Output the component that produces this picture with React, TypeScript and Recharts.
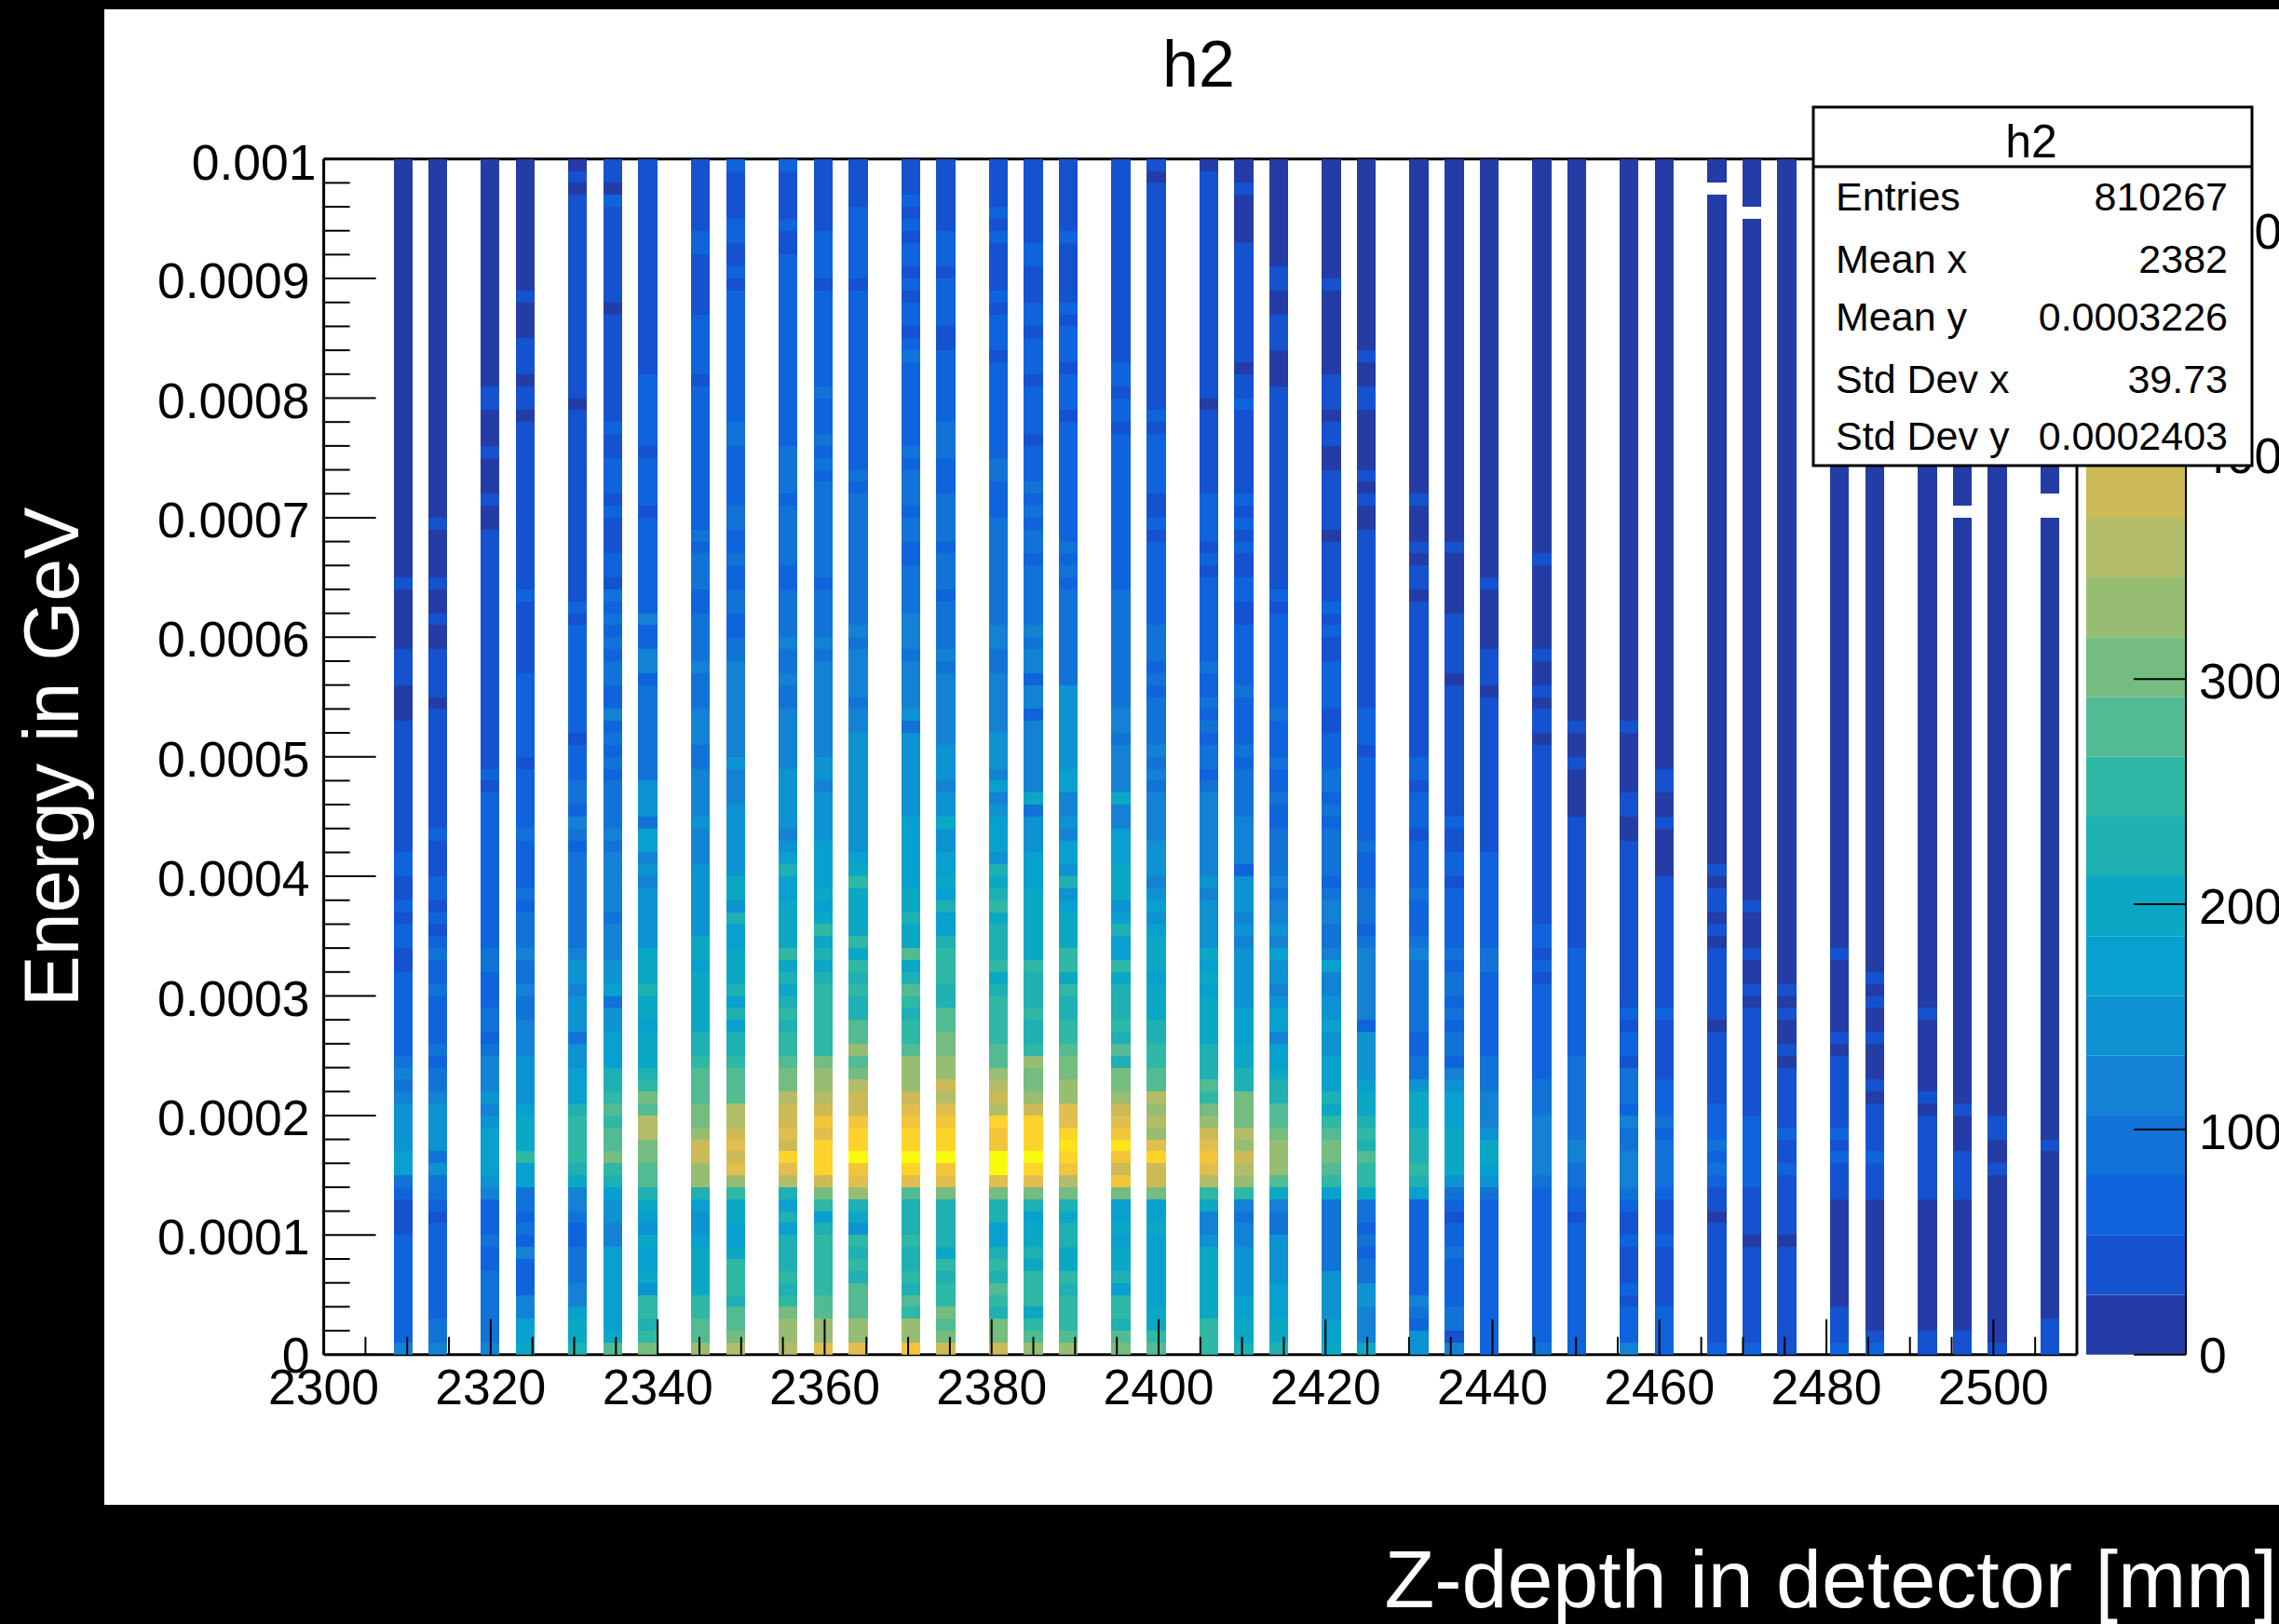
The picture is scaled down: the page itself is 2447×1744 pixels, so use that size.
import React from "react";
import {
  BarChart,
  Bar,
  ScatterChart,
  Scatter,
  XAxis,
  YAxis,
  ReferenceLine,
} from "recharts";

const WIDTH = 2447;
const HEIGHT = 1744;
const FONT = '"Liberation Sans", Arial, sans-serif';

const PLOT_LEFT = 347.6;
const PLOT_RIGHT = 2230;
const PLOT_TOP = 170.7;
const PLOT_BOTTOM = 1454.7;
const TICK_FONT = 53.5;

// contour colours, low to high, one per step of the colour scale
const palette = [
  "#243ca5", "#1552cf", "#0f64dd", "#1173d8", "#1382d4",
  "#0d92d2", "#08a0cf", "#0ba8c5", "#1eb0b3", "#2eb8a5",
  "#52bb93", "#74bc80", "#97bd73", "#b3bd68", "#ccba56",
  "#e1be4e", "#f3c53a", "#fed32b", "#f9e519", "#f9fb0e",
];
const contourStep = 26.55;
const zMax = 531;
const zTicks = [0, 100, 200, 300, 400, 500];

const xMajorTicks = [2300, 2320, 2340, 2360, 2380, 2400, 2420, 2440, 2460, 2480, 2500];
const xTicks = [
  2300, 2305, 2310, 2315, 2320, 2325, 2330, 2335, 2340, 2345, 2350, 2355, 2360, 2365,
  2370, 2375, 2380, 2385, 2390, 2395, 2400, 2405, 2410, 2415, 2420, 2425, 2430, 2435,
  2440, 2445, 2450, 2455, 2460, 2465, 2470, 2475, 2480, 2485, 2490, 2495, 2500, 2505,
];
const yMajorTicks = [0, 0.0001, 0.0002, 0.0003, 0.0004, 0.0005, 0.0006, 0.0007, 0.0008, 0.0009, 0.001];
const yTicks = [
  0, 0.00002, 0.00004, 0.00006, 0.00008, 0.0001, 0.00012, 0.00014, 0.00016, 0.00018,
  0.0002, 0.00022, 0.00024, 0.00026, 0.00028, 0.0003, 0.00032, 0.00034, 0.00036, 0.00038,
  0.0004, 0.00042, 0.00044, 0.00046, 0.00048, 0.0005, 0.00052, 0.00054, 0.00056, 0.00058,
  0.0006, 0.00062, 0.00064, 0.00066, 0.00068, 0.0007, 0.00072, 0.00074, 0.00076, 0.00078,
  0.0008, 0.00082, 0.00084, 0.00086, 0.00088, 0.0009, 0.00092, 0.00094, 0.00096, 0.00098, 0.001,
];

const statsRows = [
  ["Entries", "810267"],
  ["Mean x", "2382"],
  ["Mean y", "0.0003226"],
  ["Std Dev x", "39.73"],
  ["Std Dev y", "0.0002403"],
];
const statsBaselines = [226, 293, 355, 421.7, 482.7];

// detector layers, centre of each filled column in mm
const layerZ = [
  2309.51, 2313.63, 2319.91, 2324.14, 2330.42, 2334.65, 2338.83, 2345.11, 2349.34, 2355.62,
  2359.85, 2364.03, 2370.35, 2374.5, 2380.83, 2385.02, 2389.19, 2395.47, 2399.71, 2406.03,
  2410.21, 2414.4, 2420.72, 2424.89, 2431.18, 2435.41, 2439.59, 2445.92, 2450.1, 2456.34,
  2460.61, 2466.87, 2471.07, 2475.27, 2481.54, 2485.79, 2492.11, 2496.26, 2500.45, 2506.77,
];
const layerWidthMm = 2.28;
const energyBinGeV = 0.00001;

// for each layer, bottom to top, [contour level, number of energy bins]
// level -1 is an empty bin
const layerRuns = [
  [[4,1],[2,9],[1,3],[2,1],[3,1],[6,2],[5,4],[4,1],[3,1],[4,1],[3,1],[2,7],[1,2],[2,2],[1,1],[2,1],[1,2],[2,2],[1,11],[0,3],[1,3],[0,5],[1,1],[0,35]],
  [[4,1],[3,2],[2,8],[1,1],[2,1],[3,2],[5,1],[3,1],[5,4],[4,1],[3,2],[2,1],[3,1],[2,4],[3,1],[2,2],[3,1],[2,1],[1,1],[2,1],[1,1],[2,2],[1,3],[2,1],[1,10],[0,1],[1,4],[0,2],[1,1],[0,2],[1,1],[0,4],[1,1],[0,30]],
  [[4,1],[3,6],[2,2],[3,1],[2,3],[4,1],[5,1],[6,4],[5,1],[4,1],[5,1],[4,3],[3,1],[2,1],[3,2],[2,3],[3,2],[2,13],[1,1],[2,1],[1,20],[0,2],[1,1],[0,3],[1,1],[0,3],[1,2],[0,19]],
  [[7,1],[6,2],[4,2],[2,3],[4,1],[2,1],[3,1],[2,1],[3,2],[6,2],[9,1],[7,3],[6,1],[5,4],[4,3],[3,2],[4,1],[3,2],[4,1],[3,3],[2,1],[3,1],[2,4],[3,1],[2,5],[1,1],[2,7],[1,6],[2,1],[1,14],[0,1],[1,2],[0,1],[1,3],[0,3],[1,1],[0,11]],
  [[8,1],[7,2],[6,1],[4,2],[3,3],[2,2],[3,1],[4,2],[7,1],[8,1],[9,4],[8,1],[6,3],[5,2],[3,1],[5,3],[4,1],[5,2],[4,1],[3,8],[2,1],[3,1],[4,1],[2,1],[3,2],[2,3],[1,1],[2,9],[1,1],[2,1],[1,16],[0,1],[1,17],[0,1],[1,1],[0,1]],
  [[10,1],[7,1],[6,7],[4,2],[5,2],[6,1],[8,1],[9,1],[11,1],[10,2],[9,1],[10,1],[9,1],[8,2],[6,3],[5,2],[3,1],[6,1],[5,2],[4,3],[3,1],[4,5],[3,1],[4,1],[3,4],[2,1],[3,1],[2,1],[3,1],[2,1],[4,1],[2,2],[3,2],[2,1],[3,1],[2,1],[3,1],[2,1],[3,1],[1,1],[2,2],[1,3],[2,1],[1,1],[2,3],[1,2],[2,1],[1,9],[0,1],[1,8],[2,1],[0,1],[1,2]],
  [[11,1],[9,1],[8,1],[9,2],[5,1],[7,1],[6,2],[7,1],[5,1],[6,1],[7,1],[8,1],[10,2],[11,2],[13,2],[10,1],[11,1],[9,1],[8,1],[7,3],[6,1],[7,2],[8,1],[7,3],[5,5],[4,1],[5,1],[4,1],[6,2],[3,1],[5,3],[3,8],[2,1],[4,2],[2,2],[4,1],[2,8],[1,1],[2,4],[1,1],[2,6],[1,18]],
  [[12,1],[10,2],[9,2],[7,4],[6,1],[5,2],[6,1],[8,1],[12,2],[14,2],[12,1],[11,2],[10,3],[9,1],[8,2],[7,5],[6,1],[7,2],[5,6],[4,3],[5,1],[4,4],[3,2],[4,3],[3,3],[4,1],[3,4],[2,2],[3,3],[2,1],[3,1],[2,12],[1,1],[2,5],[1,5],[2,2],[1,6]],
  [[13,1],[11,1],[10,2],[8,1],[9,3],[7,1],[6,2],[7,2],[9,1],[12,1],[15,1],[14,1],[15,1],[14,1],[13,2],[10,3],[9,1],[8,2],[6,1],[8,1],[6,1],[8,1],[7,3],[6,2],[8,1],[5,1],[7,2],[5,6],[4,3],[5,1],[4,8],[3,2],[2,2],[3,2],[2,2],[3,1],[2,2],[3,2],[2,5],[3,2],[2,11],[1,1],[2,1],[1,2],[2,2],[1,4],[2,1]],
  [[13,1],[12,2],[11,1],[9,1],[8,1],[9,1],[8,3],[6,1],[8,1],[6,1],[8,1],[13,1],[15,1],[17,1],[14,1],[15,1],[14,2],[13,1],[11,2],[10,1],[9,2],[8,1],[9,1],[8,1],[7,1],[8,1],[7,1],[9,1],[7,4],[6,2],[8,1],[6,1],[5,1],[4,1],[5,5],[4,5],[3,2],[4,1],[3,2],[4,1],[3,4],[2,2],[3,5],[2,1],[3,4],[2,16],[1,2],[2,1],[1,4],[2,1]],
  [[15,1],[12,2],[10,2],[9,5],[8,1],[6,1],[9,1],[11,1],[14,1],[17,3],[15,1],[16,1],[14,1],[13,1],[12,2],[11,1],[9,6],[8,1],[7,1],[8,1],[7,1],[9,1],[7,1],[6,1],[7,1],[6,4],[5,4],[4,1],[5,2],[4,8],[3,1],[4,1],[3,4],[2,1],[3,8],[2,1],[3,1],[2,1],[3,1],[2,3],[3,1],[2,8],[1,1],[2,4],[1,6]],
  [[15,1],[12,2],[10,3],[8,1],[9,1],[8,1],[9,1],[5,1],[7,1],[8,1],[12,1],[15,1],[16,1],[19,1],[17,2],[16,1],[14,2],[13,1],[11,1],[10,1],[12,1],[10,2],[8,2],[9,1],[8,1],[9,1],[7,1],[9,1],[7,4],[9,1],[7,1],[6,1],[5,10],[4,2],[3,1],[4,4],[3,1],[4,1],[3,11],[2,1],[3,1],[2,15],[1,1],[2,6],[1,4]],
  [[16,1],[12,2],[9,1],[10,1],[8,1],[9,1],[8,2],[9,1],[8,3],[10,1],[15,1],[17,1],[19,1],[17,2],[16,1],[15,1],[14,1],[12,3],[10,1],[9,2],[8,1],[9,1],[10,1],[8,1],[7,1],[10,1],[7,2],[8,1],[7,2],[6,6],[5,7],[3,1],[5,1],[4,4],[3,1],[4,3],[3,4],[2,2],[3,2],[2,1],[3,3],[2,1],[3,1],[2,7],[3,1],[2,1],[1,1],[2,2],[1,1],[2,1],[1,1],[2,2],[1,1],[2,1],[1,1],[2,1],[1,3]],
  [[14,1],[11,1],[10,1],[11,1],[9,2],[8,1],[9,1],[7,1],[8,4],[11,1],[15,1],[16,1],[19,1],[17,2],[16,1],[15,1],[13,1],[14,1],[12,2],[11,2],[10,2],[8,2],[9,3],[8,1],[6,2],[8,1],[6,1],[7,1],[6,2],[5,2],[7,1],[5,2],[4,1],[5,3],[4,6],[3,1],[4,1],[3,4],[2,1],[3,3],[2,1],[3,4],[2,3],[3,3],[2,6],[1,2],[2,4],[1,1],[2,3],[1,6]],
  [[14,1],[11,2],[8,1],[9,1],[10,1],[8,1],[9,1],[8,1],[6,2],[8,2],[11,1],[15,1],[19,2],[16,2],[17,1],[13,1],[14,1],[13,1],[12,1],[10,2],[9,4],[8,1],[7,1],[9,1],[8,3],[7,1],[9,1],[8,1],[7,1],[8,1],[5,1],[6,3],[5,1],[4,1],[6,1],[4,1],[5,3],[4,5],[3,2],[4,2],[3,9],[2,3],[3,2],[2,8],[1,1],[2,3],[1,1],[2,1],[1,4],[2,1],[1,1],[2,1],[1,4]],
  [[12,1],[10,1],[9,1],[7,1],[9,3],[7,1],[8,1],[7,2],[6,1],[8,1],[11,1],[15,1],[17,1],[19,1],[17,3],[14,1],[12,1],[11,2],[12,1],[9,1],[8,2],[9,1],[8,3],[9,1],[7,6],[6,3],[5,3],[3,1],[7,1],[4,6],[2,1],[4,2],[2,1],[4,2],[3,1],[4,1],[3,5],[2,1],[3,2],[2,1],[3,1],[2,1],[3,1],[2,3],[1,1],[2,4],[1,1],[2,3],[1,1],[2,2],[1,3],[2,2],[1,7]],
  [[12,1],[10,1],[9,3],[8,1],[9,1],[7,2],[8,2],[7,1],[8,1],[11,1],[13,1],[16,1],[17,1],[18,1],[17,1],[15,2],[12,2],[11,2],[10,1],[9,2],[8,2],[9,1],[7,1],[9,2],[7,3],[6,1],[5,1],[8,1],[5,1],[6,2],[4,1],[5,1],[4,2],[6,2],[5,7],[3,8],[2,1],[3,1],[2,1],[3,1],[2,10],[1,1],[2,3],[1,1],[2,3],[1,1],[2,1],[1,5],[2,1],[1,6]],
  [[11,1],[10,1],[8,1],[9,2],[6,1],[8,1],[7,2],[6,1],[7,1],[6,2],[11,1],[16,1],[14,1],[16,1],[18,1],[16,1],[15,1],[14,1],[12,1],[11,2],[8,1],[10,1],[8,1],[9,1],[8,3],[7,1],[9,1],[6,2],[8,1],[6,1],[5,1],[7,3],[6,3],[4,2],[7,1],[4,4],[3,1],[4,2],[3,10],[2,13],[1,1],[2,2],[1,1],[2,2],[1,17]],
  [[10,1],[9,1],[7,2],[6,6],[7,1],[6,2],[11,1],[14,2],[17,1],[15,1],[12,1],[13,1],[12,1],[13,1],[10,2],[9,2],[8,2],[7,3],[6,1],[7,3],[6,1],[5,1],[6,1],[5,1],[4,1],[5,3],[4,4],[3,1],[4,1],[3,1],[4,1],[3,4],[2,1],[3,1],[2,1],[3,3],[2,7],[1,1],[2,1],[1,2],[2,5],[1,1],[2,1],[1,19],[0,1],[1,1]],
  [[9,3],[7,6],[5,1],[4,2],[7,1],[9,1],[13,1],[15,1],[16,1],[15,1],[14,1],[12,1],[11,1],[9,1],[10,1],[8,3],[7,4],[6,1],[7,1],[6,1],[7,1],[5,4],[4,1],[5,1],[4,7],[3,1],[2,1],[3,2],[2,1],[3,1],[2,1],[3,1],[2,2],[3,1],[2,7],[1,1],[2,1],[1,1],[2,4],[1,7],[0,1],[1,19],[0,1]],
  [[8,1],[7,2],[6,2],[5,4],[4,2],[3,1],[4,1],[9,1],[12,1],[13,1],[14,1],[12,1],[13,1],[11,3],[8,2],[7,2],[6,3],[5,5],[4,1],[5,1],[4,1],[5,3],[2,1],[4,4],[3,4],[2,1],[3,1],[2,4],[3,1],[2,5],[1,2],[2,2],[1,2],[2,1],[1,1],[2,1],[1,1],[2,1],[1,7],[2,1],[1,2],[0,1],[1,10],[0,4],[1,1],[0,2]],
  [[8,1],[7,2],[6,3],[5,4],[3,2],[4,1],[7,1],[10,1],[12,3],[11,1],[10,2],[8,2],[7,1],[6,2],[4,1],[6,2],[5,1],[4,1],[5,2],[6,1],[4,1],[5,1],[4,2],[3,1],[4,1],[3,4],[2,2],[3,1],[2,2],[3,1],[2,3],[3,1],[2,8],[1,1],[2,1],[1,17],[0,3],[1,3],[0,2],[1,2],[0,9]],
  [[7,1],[6,2],[5,4],[3,6],[6,1],[9,1],[10,1],[11,2],[10,1],[9,1],[7,1],[8,1],[6,3],[5,2],[6,1],[5,2],[4,2],[6,1],[4,1],[3,2],[4,2],[3,1],[2,1],[3,4],[2,1],[3,1],[2,1],[3,2],[2,3],[1,2],[2,4],[1,2],[2,1],[1,1],[2,1],[1,5],[0,1],[1,5],[0,2],[1,2],[0,1],[1,3],[0,7],[1,1],[0,10]],
  [[7,1],[4,3],[5,2],[3,2],[2,1],[3,1],[2,1],[3,2],[7,1],[9,2],[10,1],[8,1],[9,1],[8,1],[7,2],[6,1],[5,4],[2,1],[4,6],[3,1],[2,1],[3,3],[2,3],[3,1],[2,7],[1,1],[2,3],[1,15],[0,2],[1,1],[0,1],[1,1],[0,5],[1,2],[0,2],[1,1],[0,16]],
  [[5,2],[2,1],[3,1],[4,1],[2,8],[6,1],[8,1],[9,1],[8,3],[7,3],[5,1],[3,2],[2,2],[3,6],[4,1],[3,1],[2,3],[3,1],[2,4],[1,1],[2,3],[1,1],[2,2],[1,13],[0,1],[1,2],[0,1],[1,1],[0,3],[1,1],[0,28]],
  [[4,1],[1,1],[3,2],[2,4],[3,1],[2,2],[1,1],[2,1],[3,1],[5,1],[7,4],[6,3],[5,1],[4,1],[2,1],[3,2],[2,1],[3,1],[2,1],[3,2],[2,1],[3,1],[2,5],[1,1],[2,2],[1,2],[2,1],[1,11],[0,1],[1,5],[0,5],[1,1],[0,32]],
  [[2,13],[3,1],[5,1],[6,1],[7,2],[5,1],[4,3],[3,3],[2,7],[3,2],[2,8],[1,13],[0,1],[1,3],[0,5],[1,1],[0,35]],
  [[3,1],[2,13],[3,1],[4,5],[3,3],[2,8],[1,1],[2,1],[1,1],[2,2],[1,15],[0,1],[1,2],[0,1],[1,1],[0,2],[1,1],[0,7],[1,1],[0,33]],
  [[2,11],[1,1],[2,2],[3,2],[4,2],[3,7],[2,9],[1,11],[0,4],[1,1],[0,2],[1,1],[0,47]],
  [[4,1],[2,3],[1,1],[2,1],[1,3],[2,1],[1,2],[2,1],[3,1],[4,3],[3,2],[4,1],[2,1],[3,3],[1,1],[2,2],[1,1],[2,1],[1,14],[0,2],[1,2],[0,5],[1,1],[0,47]],
  [[2,4],[1,5],[2,1],[1,3],[2,1],[3,4],[2,1],[3,1],[2,3],[1,5],[2,1],[1,11],[0,4],[1,1],[0,2],[1,2],[0,51]],
  [[2,1],[1,10],[0,1],[1,2],[2,1],[3,1],[2,1],[3,1],[2,3],[1,6],[0,1],[1,6],[0,1],[1,1],[0,1],[1,2],[0,1],[1,1],[0,56],[-1,1],[0,2]],
  [[2,1],[1,8],[0,1],[1,4],[2,6],[1,9],[0,1],[1,1],[0,2],[1,1],[0,3],[1,1],[0,57],[-1,1],[0,4]],
  [[1,9],[0,1],[1,5],[2,1],[1,2],[2,1],[1,5],[0,1],[1,1],[0,2],[1,1],[0,1],[1,1],[0,69]],
  [[2,1],[1,3],[0,9],[1,3],[2,1],[1,1],[2,1],[1,6],[0,1],[1,1],[0,6],[1,1],[0,66]],
  [[2,1],[1,1],[0,11],[1,3],[2,1],[1,4],[0,1],[1,1],[0,3],[1,1],[0,2],[1,1],[0,1],[1,1],[0,68]],
  [[1,2],[0,11],[1,7],[0,1],[1,1],[0,6],[1,1],[0,71]],
  [[1,2],[0,11],[1,4],[0,3],[1,1],[0,49],[-1,1],[0,29]],
  [[1,1],[0,14],[1,1],[0,2],[1,2],[0,80]],
  [[1,3],[0,14],[1,1],[0,52],[-1,2],[0,28]],
];

const cells = layerZ.flatMap((z, col) => {
  const levels = layerRuns[col].flatMap(([level, n]) => Array(n).fill(level)).slice(0, 100);
  return levels.flatMap((level, bin) =>
    level < 0
      ? []
      : [{ z, energy: (bin + 0.5) * energyBinGeV, entries: (level + 0.5) * contourStep }],
  );
});

const paletteRow = palette.reduce(
  (row, _c, i) => ({ ...row, [`level${i}`]: contourStep }),
  { name: "palette" } as Record<string, number | string>,
);

const cellW = (layerWidthMm * (PLOT_RIGHT - PLOT_LEFT)) / 210;
const cellH = (PLOT_BOTTOM - PLOT_TOP) / 100;

const CellMark = (props: any) => {
  const level = Math.floor(props.payload.entries / contourStep);
  return (
    <rect
      x={props.cx - cellW / 2}
      y={props.cy - cellH / 2}
      width={cellW}
      height={cellH}
      fill={palette[level]}
      shapeRendering="crispEdges"
    />
  );
};

const XTick = (props: any) => {
  const { x, y, payload } = props;
  const major = xMajorTicks.includes(payload.value);
  return (
    <g>
      <line x1={x} x2={x} y1={y} y2={y - (major ? 38 : 19)} stroke="#000" strokeWidth={2} />
      {major && (
        <text x={x} y={y + 53} textAnchor="middle" fontSize={TICK_FONT} fontFamily={FONT} fill="#000">
          {payload.value}
        </text>
      )}
    </g>
  );
};

const YTick = (props: any) => {
  const { x, y, payload } = props;
  const major = yMajorTicks.includes(payload.value);
  return (
    <g>
      <line x1={x} x2={x + (major ? 56 : 28)} y1={y} y2={y} stroke="#000" strokeWidth={2} />
      {major && (
        <text
          x={payload.value === 0.001 ? x - 8 : x - 15}
          y={y + (payload.value === 0 ? 19 : payload.value === 0.001 ? 22 : 21)}
          textAnchor="end"
          fontSize={TICK_FONT}
          fontFamily={FONT}
          fill="#000"
        >
          {String(payload.value)}
        </text>
      )}
    </g>
  );
};

const ZTick = (props: any) => {
  const { x, y, payload } = props;
  return (
    <g>
      <line x1={x} x2={x - 56} y1={y} y2={y} stroke="#000" strokeWidth={2} />
      <text x={x + 14} y={y + (payload.value === 0 ? 19 : 21)} fontSize={TICK_FONT} fontFamily={FONT} fill="#000">
        {payload.value}
      </text>
    </g>
  );
};

const layer: React.CSSProperties = { position: "absolute", left: 0, top: 0 };

export default function App() {
  return (
    <div style={{ ...layer, width: WIDTH, height: HEIGHT, background: "#000", overflow: "hidden" }}>
      <div style={{ position: "absolute", left: 112, top: 10, width: WIDTH - 112, height: 1606, background: "#fff" }} />

      <div style={layer}>
        <BarChart
          width={WIDTH}
          height={HEIGHT}
          data={[paletteRow]}
          barCategoryGap={0}
          margin={{ top: PLOT_TOP, bottom: HEIGHT - PLOT_BOTTOM, left: 2240, right: 99 }}
        >
          <XAxis dataKey="name" hide />
          <YAxis
            orientation="right"
            width={1}
            type="number"
            domain={[0, zMax]}
            ticks={zTicks}
            interval={0}
            tick={ZTick}
            tickLine={false}
            tickSize={0}
            tickMargin={0}
            axisLine={{ stroke: "#000", strokeWidth: 2 }}
          />
          {palette.map((color, i) => (
            <Bar key={color} dataKey={`level${i}`} stackId="z" fill={color} isAnimationActive={false} />
          ))}
        </BarChart>
      </div>

      <div style={layer}>
        <ScatterChart
          width={WIDTH}
          height={HEIGHT}
          margin={{ top: PLOT_TOP, bottom: HEIGHT - PLOT_BOTTOM - 1, left: PLOT_LEFT - 1, right: WIDTH - PLOT_RIGHT }}
        >
          <Scatter data={cells} shape={CellMark} isAnimationActive={false} />
          <XAxis
            dataKey="z"
            type="number"
            height={1}
            domain={[2300, 2510]}
            allowDataOverflow
            ticks={xTicks}
            interval={0}
            tick={XTick}
            tickLine={false}
            tickSize={0}
            tickMargin={0}
            axisLine={{ stroke: "#000", strokeWidth: 3 }}
          />
          <YAxis
            dataKey="energy"
            type="number"
            width={1}
            domain={[0, 0.001]}
            allowDataOverflow
            ticks={yTicks}
            interval={0}
            tick={YTick}
            tickLine={false}
            tickSize={0}
            tickMargin={0}
            axisLine={{ stroke: "#000", strokeWidth: 3 }}
          />
          <ReferenceLine y={0.001} stroke="#000" strokeWidth={3} />
          <ReferenceLine x={2510} stroke="#000" strokeWidth={3} />
        </ScatterChart>
      </div>

      <svg width={WIDTH} height={HEIGHT} style={layer} fontFamily={FONT}>
        <text x={1287} y={93} textAnchor="middle" fontSize={70} fill="#000">h2</text>
        <text x={2445} y={1726} textAnchor="end" fontSize={88} fill="#fff">Z-depth in detector [mm]</text>
        <text
          transform="translate(84 813) rotate(-90)"
          textAnchor="middle"
          fontSize={82.5}
          fill="#fff"
        >
          Energy in GeV
        </text>

        <rect x={1947} y={115} width={471} height={385} fill="#fff" stroke="#000" strokeWidth={3} />
        <line x1={1947} x2={2418} y1={179} y2={179} stroke="#000" strokeWidth={3} />
        <text x={2181} y={169} textAnchor="middle" fontSize={50} fill="#000">h2</text>
        {statsRows.map(([label, value], i) => (
          <g key={label} fontSize={43} fill="#000">
            <text x={1971} y={statsBaselines[i]}>{label}</text>
            <text x={2392} y={statsBaselines[i]} textAnchor="end">{value}</text>
          </g>
        ))}
      </svg>
    </div>
  );
}
